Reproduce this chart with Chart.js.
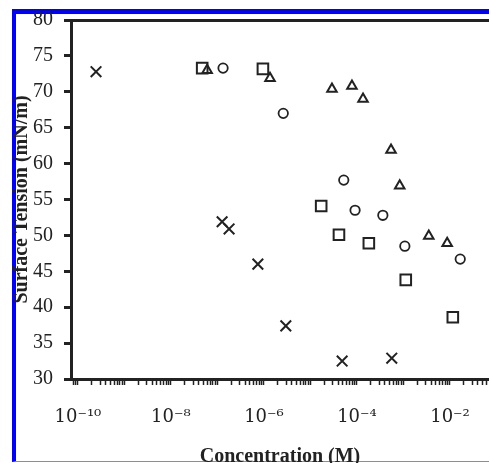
<!DOCTYPE html>
<html lang="en">
  <head>
    <meta charset="utf-8">
    <title>Surface tension vs concentration</title>
    <script src="https://cdn.jsdelivr.net/npm/chart.js@4.4.0/dist/chart.umd.min.js"></script>
    <style>
      html, body { margin: 0; padding: 0; background: #fff; overflow: hidden; }
      #frame {
        position: absolute; left: 12px; top: 9px; width: 477px; height: 453px;
        box-sizing: border-box;
        border-left: 4px solid #0000ff;
        border-top: 5px solid #0000ff;
        border-bottom: 1px solid #8080ff;
      }
      #wrap { position: absolute; left: 0; top: 0; width: 489px; height: 463px; }
    </style>
  </head>
  <body>
    <div id="frame"></div>
    <div id="wrap"><canvas id="chart" width="489" height="463"></canvas></div>

    <script>
    // data (concentration in M, surface tension in mN/m)
    var crossX = [2.45e-10, 1.26e-7, 1.78e-7, 7.4e-7, 2.95e-6, 4.8e-5, 5.6e-4];
    var crossY = [72.8, 51.9, 50.9, 46.0, 37.4, 32.5, 32.9];

    var squareX = [4.7e-8, 9.5e-7, 1.7e-5, 4.1e-5, 1.8e-4, 1.12e-3, 1.15e-2];
    var squareY = [73.3, 73.2, 54.1, 50.1, 48.9, 43.8, 38.6];

    var triangleX = [6.0e-8, 1.35e-6, 2.9e-5, 7.8e-5, 1.35e-4, 5.4e-4, 8.3e-4, 3.5e-3, 8.7e-3];
    var triangleY = [73.0, 71.9, 70.4, 70.8, 69.0, 61.9, 56.9, 49.9, 48.9];

    var circleX = [1.32e-7, 2.6e-6, 5.2e-5, 9.1e-5, 3.6e-4, 1.07e-3, 1.66e-2];
    var circleY = [73.3, 67.0, 57.7, 53.5, 52.8, 48.5, 46.7];

    // axis range and tick labels
    var xMin = 7.1e-11, xMax = 0.069;
    var yMin = 30, yMax = 80, yStep = 5;
    var xLabelPowers = [-10, -8, -6, -4, -2];
    var xLabels = ['10\u207B\u00B9\u2070', '10\u207B\u2078', '10\u207B\u2076', '10\u207B\u2074', '10\u207B\u00B2'];

    var ink = '#222';
    var serif = "'Liberation Serif', 'Times New Roman', serif";
    var supFont = "'DejaVu Serif', 'Liberation Serif', serif";

    function pts(xs, ys) {
      return xs.map(function (x, i) { return {x: x, y: ys[i]}; });
    }

    function series(xs, ys, style, radius, width) {
      return {
        data: pts(xs, ys),
        pointStyle: style,
        pointRadius: radius,
        pointBorderWidth: width,
        borderColor: ink,
        backgroundColor: 'rgba(0,0,0,0)',
        showLine: false
      };
    }

    new Chart(document.getElementById('chart'), {
      type: 'scatter',
      data: {
        datasets: [
          series(crossX, crossY, 'crossRot', 7.5, 2),
          series(squareX, squareY, 'rect', 7.5, 2),
          series(triangleX, triangleY, 'triangle', 5.5, 2),
          series(circleX, circleY, 'circle', 4.7, 1.8)
        ]
      },
      options: {
        responsive: false,
        animation: false,
        layout: { autoPadding: false, padding: { top: 20, right: 0, bottom: 0, left: 0 } },
        plugins: { legend: { display: false }, tooltip: { enabled: false } },
        scales: {
          x: {
            type: 'logarithmic',
            min: xMin,
            max: xMax,
            afterBuildTicks: function (scale) {
              var t = [];
              for (var e = -11; e <= -1; e++) {
                for (var m = 1; m <= 9; m++) {
                  var v = m * Math.pow(10, e);
                  if (v > xMin && v < xMax) t.push({value: v});
                }
              }
              scale.ticks = t;
            },
            afterFit: function (scale) {
              scale.height = 84;
              scale.paddingLeft = 0;
              scale.paddingRight = 0;
            },
            border: { display: true, color: ink, width: 3 },
            grid: { drawOnChartArea: false, tickLength: 6, tickColor: ink, tickWidth: 1.5 },
            ticks: {
              autoSkip: false,
              maxRotation: 0,
              padding: 22,
              color: ink,
              font: { family: supFont, size: 18 },
              callback: function (value) {
                var p = Math.round(Math.log10(value));
                var k = xLabelPowers.indexOf(p);
                if (k >= 0 && Math.abs(Math.log10(value) - p) < 1e-6) return xLabels[k];
                return '';
              }
            },
            title: {
              display: true,
              text: 'Concentration (M)',
              color: ink,
              font: { family: serif, size: 20, weight: 'bold', lineHeight: 0.6 },
              padding: { top: 0, bottom: 0 }
            }
          },
          y: {
            min: yMin,
            max: yMax,
            afterFit: function (scale) {
              scale.width = 71;
              scale.paddingTop = 0;
              scale.paddingBottom = 0;
            },
            border: { display: true, color: ink, width: 3 },
            grid: {
              drawOnChartArea: true,
              color: function (c) { return c.tick && c.tick.value === yMax ? ink : 'rgba(0,0,0,0)'; },
              lineWidth: 3,
              tickLength: 7,
              tickColor: ink,
              tickWidth: 3
            },
            ticks: {
              stepSize: yStep,
              padding: 11,
              color: ink,
              font: { family: serif, size: 20 }
            },
            title: {
              display: true,
              text: 'Surface Tension (mN/m)',
              color: ink,
              font: { family: serif, size: 20, weight: 'bold', lineHeight: 1 },
              padding: { top: 12, bottom: 0 }
            }
          }
        }
      }
    });
    </script>
  </body>
</html>
